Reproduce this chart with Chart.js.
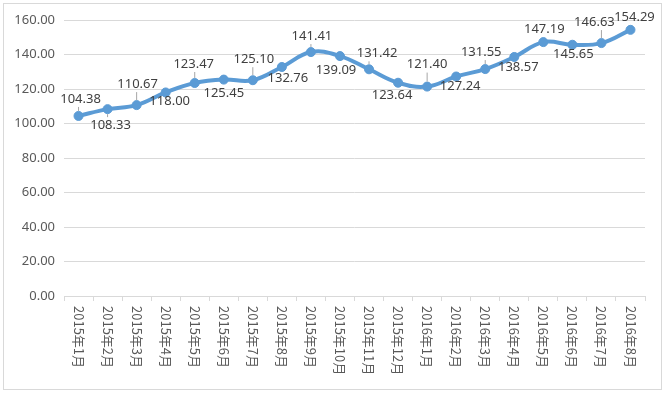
<!DOCTYPE html>
<html><head><meta charset="utf-8">
<script src="https://cdn.jsdelivr.net/npm/chart.js@4/dist/chart.umd.min.js"></script>
<style>html,body{margin:0;padding:0;background:#fff;}#wrap{width:667px;height:395px;position:relative;}</style>
</head><body><div id="wrap"><canvas id="c" width="667" height="395"></canvas></div>
<script>
const categories = ["2015年1月","2015年2月","2015年3月","2015年4月","2015年5月","2015年6月","2015年7月","2015年8月","2015年9月","2015年10月","2015年11月","2015年12月","2016年1月","2016年2月","2016年3月","2016年4月","2016年5月","2016年6月","2016年7月","2016年8月"];
const values = [104.38,108.33,110.67,118.00,123.47,125.45,125.10,132.76,141.41,139.09,131.42,123.64,121.40,127.24,131.55,138.57,147.19,145.65,146.63,154.29];
const yTicks = [0,20,40,60,80,100,120,140,160];
// data-label placement offsets (label centre relative to point), in px
const labelOffsets = [[2,-17],[3,16],[1,-21],[4,9],[-1,-19],[0,14],[1,-21],[6,11],[1,-16],[-4,14],[8,-16],[-6,13],[0,-22],[4,10],[-4,-17],[4,10],[1,-13],[1,10],[-7,-21],[4,-13]];

const NUM_FONT = '13px "Noto Sans", "DejaVu Sans", sans-serif';
const CJK_FONT = '13px "Noto Sans CJK SC", sans-serif';

const decor = {
  id: 'decor',
  beforeDraw(chart) {
    const ctx = chart.ctx;
    ctx.save();
    ctx.fillStyle = '#fff';
    ctx.fillRect(0, 0, chart.width, chart.height);
    ctx.strokeStyle = '#d9d9d9';
    ctx.lineWidth = 1;
    ctx.strokeRect(3.5, 3.5, 658, 386);
    ctx.restore();
  },
  afterDraw(chart) {
    const ctx = chart.ctx;
    const xs = chart.scales.x;
    ctx.save();
    ctx.fillStyle = '#595959';
    ctx.font = CJK_FONT;
    ctx.textAlign = 'left';
    ctx.textBaseline = 'middle';
    categories.forEach((c, i) => {
      const x = xs.getPixelForValue(i);
      ctx.save();
      ctx.translate(x, chart.chartArea.bottom + 10);
      ctx.rotate(Math.PI / 2);
      ctx.fillText(c, 0, 0);
      ctx.restore();
    });
    const meta = chart.getDatasetMeta(0);
    ctx.font = NUM_FONT;
    ctx.textAlign = 'center';
    ctx.textBaseline = 'middle';
    meta.data.forEach((pt, i) => {
      const [dx, dy] = labelOffsets[i];
      const lx = pt.x + dx, ly = pt.y + dy;
      const txt = values[i].toFixed(2);
      const w = ctx.measureText(txt).width;
      const h = 14;
      const edgeY = dy < 0 ? ly + h / 2 : ly - h / 2;
      const gap = Math.abs(pt.y - edgeY);
      if (gap > 8) {
        ctx.strokeStyle = '#a6a6a6';
        ctx.lineWidth = 1;
        ctx.beginPath();
        const ex = Math.max(lx - w / 2, Math.min(lx + w / 2, pt.x));
        ctx.moveTo(ex, edgeY + (dy < 0 ? 1 : -1));
        ctx.lineTo(pt.x, pt.y + (dy < 0 ? -5 : 5));
        ctx.stroke();
      }
      ctx.fillStyle = '#404040';
      ctx.fillText(txt, lx, ly);
    });
    ctx.restore();
  }
};

new Chart(document.getElementById('c'), {
  type: 'line',
  data: {
    labels: categories,
    datasets: [{
      data: values,
      borderColor: '#5b9bd5',
      backgroundColor: '#5b9bd5',
      borderWidth: 4,
      pointRadius: 4.5,
      pointBackgroundColor: '#5b9bd5',
      pointBorderColor: '#5b9bd5',
      pointBorderWidth: 1,
      tension: 0.4,
      fill: false
    }]
  },
  options: {
    responsive: false,
    animation: false,
    devicePixelRatio: 1,
    layout: { padding: { left: 0, right: 22, top: 20, bottom: 5 } },
    plugins: { legend: { display: false }, tooltip: { enabled: false } },
    scales: {
      x: {
        type: 'category',
        offset: true,
        grid: { display: true, drawOnChartArea: false, drawTicks: true, tickLength: 5, color: '#d9d9d9', offset: true },
        border: { display: true, color: '#d9d9d9', width: 1 },
        ticks: { display: false },
        afterFit(s) { s.height = 94; }
      },
      y: {
        min: 0, max: 160,
        afterBuildTicks(s) { s.ticks = yTicks.map(v => ({ value: v })); },
        grid: { color: '#d9d9d9', drawTicks: false, lineWidth: 1 },
        border: { display: false },
        ticks: {
          color: '#595959',
          font: { family: '"Noto Sans", "DejaVu Sans", sans-serif', size: 13 },
          padding: 9,
          callback: v => Number(v).toFixed(2)
        },
        afterFit(s) { s.width = 64; }
      }
    }
  },
  plugins: [decor]
});
</script>
</body></html>
